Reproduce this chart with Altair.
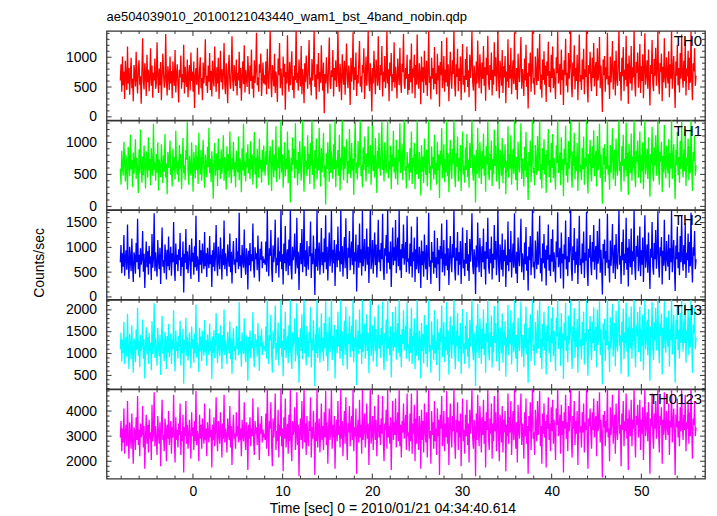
import altair as alt
import pandas as pd

FONT = "Liberation Sans"
TITLE = "ae504039010_20100121043440_wam1_bst_4band_nobin.qdp"
X_TITLE = "Time [sec] 0 = 2010/01/21 04:34:40.614"
Y_TITLE = "Counts/sec"

T_START = -8.1
T_END = 56.1
T_DOMAIN = [-9.63, 57.1]
X_MAJOR = [0, 10, 20, 30, 40, 50]
X_MINOR = [-8, -6, -4, -2, 2, 4, 6, 8, 12, 14, 16, 18, 22, 24, 26, 28, 32, 34, 36, 38,
           42, 44, 46, 48, 52, 54, 56]

LABELS = ["TH0", "TH1", "TH2", "TH3", "TH0123"]
COLORS = ["#ff0000", "#00ff00", "#0000ff", "#00ffff", "#ff00ff"]
Y_DOMAINS = [[-55, 1440], [-52, 1340], [-49, 1750], [190, 2230], [1310, 4860]]
Y_MAJOR = [[0, 500, 1000], [0, 500, 1000], [0, 500, 1000, 1500],
           [500, 1000, 1500, 2000], [2000, 3000, 4000]]
Y_MINOR_STEP = [100, 100, 100, 100, 200]

TH0 = [
    610, 880, 420, 1010, 530, 760, 300, 940, 680, 450, 1180, 560, 820, 370, 700, 990, 480, 640, 260, 870,
    720, 510, 1090, 610, 390, 830, 950, 540, 680, 220, 780, 1320, 600, 460, 900, 710, 350, 1040, 580, 790,
    430, 670, 1150, 520, 860, 320, 740, 610, 980, 470, 560, 1250, 690, 400, 810, 530, 920, 280, 650, 1060,
    740, 490, 580, 1390, 620, 360, 850, 700, 450, 1010, 560, 770, 310, 930, 640, 520, 1120, 410, 690, 880,
    550, 240, 790, 660, 1030, 470, 720, 580, 1210, 390, 840, 620, 500, 960, 330, 710, 870, 440, 1080, 600,
    760, 420, 930, 150, 680, 820, 540, 1160, 610, 370, 790, 1000, 480, 650, 280, 910, 560, 740, 1300, 520,
    690, 400, 860, 590, 1070, 450, 770, 340, 940, 620, 510, 1180, 700, 420, 830, 560, 990, 300, 680, 1110,
    580, 800, 460, 720, 1240, 540, 380, 900, 650, 230, 820, 1040, 590, 470, 760, 1350, 610, 430, 870, 700,
    520, 960, 360, 740, 610, 1090, 480, 820, 270, 680, 930, 550, 1200, 410, 790, 640, 500, 1020, 720, 380,
    860, 600, 1130, 470, 690, 320, 950, 570, 780, 1410, 530, 660, 420, 880, 740, 1060, 350, 620, 910, 560,
    700,
    540, 930, 380, 1140, 690, 470, 820, 1480, 600, 330, 870, 720, 510, 1060, 400, 760, 620, 250, 980, 700,
    1240, 480, 810, 590, 360, 1010, 670, 890, 120, 750, 560, 1370, 640, 420, 920, 530, 780, 1100, 450, 680,
    310, 860, 620, 1520, 570, 740, 440, 960, 690, 510, 1190, 380, 800, 650, 230, 900, 580, 1030, 720, 470,
    830, 1290, 540, 660, 360, 970, 610, 780, 1460, 500, 710, 290, 880, 630, 1070, 420, 750, 570, 1200, 680,
    440, 910, 60, 720, 560, 1000, 640, 390, 850, 1330, 590, 470, 780, 670, 1120, 340, 820, 610, 950, 500,
    730, 1500, 580, 420, 890, 660, 280, 1050, 710, 540, 940, 370, 800, 1230, 620, 480, 860, 700, 200, 990,
    590, 760, 1420, 450, 830, 620, 1080, 350, 700, 560, 920, 1270, 510, 680, 410, 870, 740, 1150, 300, 640,
    1010, 520, 780, 1460, 600, 430, 900, 670, 90, 820, 560, 1110, 690, 380, 960, 740, 520, 1350, 610, 450,
    870, 700, 1190, 340, 760, 590, 1020, 480, 650, 1480, 560, 800, 260, 910, 680, 1070, 430, 720, 580, 1250,
    490, 840, 660, 310, 980, 720, 530, 1160, 600, 400, 890, 750, 1390, 560, 470, 820, 640, 1040, 370,
    720, 450, 960, 580, 1230, 390, 810, 660, 1040, 310, 870, 540, 1380, 620, 470, 900, 730, 210, 1010, 590,
    830, 400, 1110, 690, 530, 940, 350, 760, 1450, 570, 680, 290, 990, 640, 820, 460, 1170, 550, 730, 380,
    1060, 610, 860, 170, 920, 700, 1270, 480, 650, 1020, 420, 790, 580, 1330, 510, 880, 260, 740, 1090, 630,
    470, 950, 720, 1500, 560, 340, 880, 670, 1140, 430, 810, 600, 1010, 280, 760, 1220, 540, 690, 410, 970,
    620, 1180, 500, 780, 330, 1040, 650, 890, 1440, 590, 440, 860, 710, 100, 930, 560, 1280, 680, 480, 1050,
    760, 390, 910, 640, 1190, 520, 830, 270, 990, 700, 1360, 580, 450, 870, 620, 1080, 360, 790, 540, 1250,
    680, 1000, 430, 730, 1470, 600, 310, 940, 770, 520, 1120, 400, 850, 660, 1020, 230, 760, 590, 1300, 490,
    870, 640, 1160, 380, 700, 950, 550, 1420, 620, 450, 820, 290, 1060, 710, 580, 930, 1340, 470, 800, 660,
    350, 980, 610, 1210, 500, 740, 140, 900, 680, 1080, 420, 790, 1490, 560, 650, 370, 1010, 720, 530, 1150,
    600, 830, 1390, 460, 710, 320, 960, 620, 1100, 540, 860, 250, 930, 690, 1260, 500, 770, 410, 1040, 650,
    1180, 480, 810, 580, 300, 1000, 730, 1430, 560, 660, 890, 370, 1130, 620, 790, 200, 950, 700, 1310, 520,
    740, 410, 1070, 640, 880, 1510, 550, 330, 910, 680, 1200, 460, 820, 600, 1040, 280, 760, 1380, 590, 700,
    450, 960, 630, 1140, 380, 800, 670, 1460, 520, 240, 870, 720, 1090, 590, 430, 990, 650, 1240, 510, 780,
    920, 350, 1150, 610, 740, 1340, 480, 860, 570, 80, 960, 700, 1020, 420, 830, 630, 1410, 540, 690, 300,
    1010, 580, 820, 1270, 460, 700, 940, 360, 1110, 650, 520, 880, 1480, 600, 750, 270, 990, 680, 1170, 430,
    790, 620, 1360, 510, 890, 220, 1030, 700, 560, 1190, 440, 830, 660, 1500, 570, 340, 920, 740, 1080, 490,
    660, 1220, 400, 850, 600, 1050, 310, 780, 1400, 540, 710, 950, 470, 1130, 630, 190, 870, 720, 1290, 560,
    430, 970, 690, 1160, 520, 800, 1450, 610, 380, 900, 750, 1060, 260, 840, 580, 1320, 650, 480, 1000, 710,
    560, 1100, 330, 880, 640, 1490, 470, 760, 1020, 590, 150, 930, 690, 1210, 530, 820, 410, 1070, 640, 1380,
    700, 490, 940, 600, 1260, 360, 810, 680, 1110, 450, 990, 570, 1430, 630, 280, 900, 760, 1150, 520, 690,
]

TH1 = [
    590, 340, 870, 620, 480, 1010, 710, 390, 800, 550, 260, 930, 660, 470, 1120, 580, 720, 300, 840, 510,
    680, 1050, 430, 760, 600, 210, 890, 520, 1200, 640, 370, 780, 490, 950, 620, 280, 860, 700, 450, 1080,
    560, 740, 330, 910, 610, 480, 1290, 570, 690, 400, 820, 530, 1000, 250, 730, 610, 460, 970, 680, 360,
    800, 540, 1130, 450, 670, 190, 850, 600, 740, 1030, 490, 620, 310, 900, 560, 770, 420, 1180, 640, 500,
    720, 380, 960, 590, 820, 270, 680, 1070, 520, 640, 410, 880, 730, 1330, 550, 340, 790, 610, 480, 1000,
    600, 230, 850, 700, 440, 960, 570, 780, 350, 1150, 620, 500, 880, 400, 720, 1040, 540, 290, 810, 660,
    460, 930, 610, 1230, 520, 740, 380, 860, 590, 120, 700, 990, 480, 650, 830, 320, 1060, 570, 740, 430,
    890, 510, 680, 1110, 400, 770, 600, 260, 940, 550, 820, 450, 1170, 630, 360, 750, 580, 1010, 470, 690,
    300, 870, 620, 530, 1090, 410, 760, 650, 220, 910, 560, 1290, 480, 700, 390, 840, 610, 970, 520, 740,
    430, 1020, 580, 810, 340, 690, 1160, 500, 760, 280, 900, 620, 450, 1060, 590, 730, 370, 880, 540, 950,
    610,
    480, 860, 650, 1360, 520, 330, 770, 940, 590, 240, 1040, 690, 450, 810, 560, 1250, 380, 720, 600, 930,
    420, 700, 1380, 530, 810, 290, 650, 1000, 470, 740, 580, 1170, 360, 880, 620, 60, 760, 540, 1080, 650,
    900, 440, 1300, 590, 720, 330, 850, 510, 1020, 680, 400, 790, 1350, 560, 230, 940, 620, 710, 470, 1110,
    580, 820, 350, 990, 640, 1400, 490, 730, 270, 880, 600, 1060, 420, 760, 560, 1230, 680, 310, 910, 530,
    760, 1150, 450, 640, 30, 830, 590, 1000, 700, 380, 1290, 520, 860, 640, 430, 970, 580, 1360, 300, 720,
    610, 880, 480, 1120, 250, 760, 560, 1380, 670, 410, 930, 590, 820, 1050, 360, 710, 510, 1210, 640, 440,
    990, 560, 740, 180, 860, 1330, 520, 690, 420, 1020, 610, 780, 1360, 470, 650, 300, 920, 570, 1090, 700,
    390, 830, 620, 1250, 510, 740, 960, 340, 680, 1400, 550, 800, 450, 1070, 620, 210, 870, 590, 1150, 660,
    480, 920, 1320, 570, 730, 390, 1000, 640, 520, 850, 1370, 440, 700, 580, 950, 270, 810, 620, 1180, 530,
    760, 430, 1040, 610, 340, 890, 700, 1300, 520, 660, 980, 410, 770, 1390, 560, 630, 280, 850, 600,
    670, 400, 910, 530, 1170, 350, 760, 610, 990, 270, 820, 500, 1360, 570, 430, 850, 680, 170, 960, 540,
    780, 360, 1060, 640, 490, 890, 310, 710, 1390, 520, 630, 250, 940, 590, 770, 420, 1120, 500, 680, 340,
    1010, 560, 810, 130, 870, 650, 1220, 440, 600, 970, 380, 740, 530, 1350, 470, 830, 220, 690, 1040, 580,
    430, 900, 670, 1400, 510, 300, 830, 620, 1090, 390, 760, 550, 960, 240, 710, 1170, 500, 640, 370, 920,
    570, 1130, 460, 730, 290, 990, 600, 840, 1380, 540, 400, 810, 660, 60, 880, 510, 1230, 630, 440, 1000,
    710, 350, 860, 590, 1140, 480, 780, 230, 940, 650, 1340, 530, 410, 820, 570, 1030, 320, 740, 500, 1200,
    630, 950, 390, 680, 1410, 550, 270, 890, 720, 480, 1070, 360, 800, 610, 970, 190, 710, 540, 1250, 450,
    820, 590, 1110, 340, 650, 900, 510, 1370, 570, 410, 770, 250, 1010, 660, 530, 880, 1300, 430, 750, 610,
    310, 930, 560, 1160, 460, 690, 100, 850, 630, 1030, 380, 740, 1420, 520, 600, 330, 960, 670, 490, 1100,
    550, 780, 1350, 420, 660, 280, 910, 570, 1050, 500, 810, 210, 880, 640, 1210, 460, 720, 370, 990, 600,
    1130, 440, 760, 530, 260, 950, 680, 1380, 520, 610, 840, 330, 1080, 570, 740, 160, 900, 650, 1260, 480,
    690, 370, 1020, 590, 830, 1420, 510, 290, 860, 630, 1150, 420, 770, 550, 990, 240, 710, 1330, 540, 650,
    410, 910, 580, 1090, 340, 750, 620, 1400, 480, 200, 820, 670, 1040, 540, 390, 940, 600, 1190, 470, 730,
    870, 310, 1100, 560, 690, 1290, 440, 810, 520, 40, 910, 650, 970, 380, 780, 580, 1360, 500, 640, 260,
    960, 530, 770, 1220, 420, 650, 890, 320, 1060, 600, 480, 830, 1410, 550, 700, 230, 940, 630, 1120, 390,
    740, 570, 1310, 470, 840, 180, 980, 650, 520, 1140, 400, 780, 610, 1390, 520, 300, 870, 690, 1030, 450,
    610, 1170, 360, 800, 550, 1000, 270, 730, 1350, 500, 660, 900, 430, 1080, 580, 150, 820, 670, 1240, 510,
    390, 920, 640, 1110, 480, 750, 1400, 560, 340, 850, 700, 1010, 220, 790, 530, 1270, 600, 440, 950, 660,
    520, 1050, 290, 830, 590, 1380, 430, 710, 970, 540, 110, 880, 640, 1160, 490, 770, 370, 1020, 590, 1330,
    650, 450, 890, 550, 1210, 320, 760, 630, 1060, 410, 940, 520, 1370, 580, 240, 850, 710, 1100, 480, 640,
]

TH2 = [
    700, 1050, 480, 880, 610, 1250, 430, 790, 940, 550, 1460, 680, 360, 1010, 760, 520, 1180, 640, 300, 900,
    820, 470, 1090, 700, 1580, 560, 850, 390, 980, 650, 760, 1330, 510, 870, 180, 740, 1120, 600, 920, 450,
    1030, 670, 820, 340, 1270, 590, 780, 1690, 520, 900, 640, 410, 1150, 730, 560, 990, 260, 820, 1400, 610,
    740, 480, 1060, 860, 350, 950, 620, 1220, 540, 780, 1010, 430, 880, 700, 1510, 590, 320, 1080, 660, 850,
    520, 960, 740, 1290, 420, 800, 610, 1120, 90, 870, 690, 1370, 560, 920, 480, 780, 1050, 640, 360, 1180,
    710, 890, 450, 1020, 600, 1640, 530, 820, 700, 300, 1150, 650, 940, 480, 1080, 760, 560, 1310, 620, 880,
    400, 990, 720, 580, 1230, 660, 850, 200, 940, 610, 1100, 520, 790, 1450, 680, 430, 1010, 740, 560, 1200,
    820, 350, 970, 640, 1540, 560, 880, 720, 420, 1060, 790, 610, 1280, 500, 910, 270, 830, 1130, 650, 760,
    480, 1190, 700, 920, 560, 1700, 620, 840, 380, 1050, 730, 590, 1360, 670, 450, 980, 810, 150, 930, 640,
    1090, 520, 860, 720, 1480, 600, 390, 1000, 760, 880, 540, 1240, 680, 310, 970, 750, 1120, 580, 820, 690,
    730,
    650, 1120, 510, 1790, 760, 420, 980, 830, 1350, 570, 300, 1040, 700, 880, 1560, 480, 790, 640, 1200, 390,
    920, 710, 1820, 560, 860, 250, 1080, 680, 1430, 520, 790, 960, 440, 1160, 630, 1760, 590, 350, 1010, 740,
    860, 1280, 470, 690, 1600, 580, 910, 140, 820, 1090, 660, 1370, 500, 780, 1800, 610, 940, 420, 1130, 700,
    550, 1020, 820, 1520, 380, 880, 660, 1240, 720, 40, 970, 610, 1780, 530, 840, 1100, 450, 760, 1390, 640,
    900, 480, 1180, 700, 1650, 560, 1010, 330, 860, 1300, 620, 780, 1740, 490, 950, 680, 1150, 220, 830, 1060,
    600, 1420, 740, 920, 510, 1800, 660, 1030, 410, 870, 1210, 580, 1590, 700, 360, 990, 790, 1330, 540, 880,
    1120, 640, 1770, 460, 900, 720, 1260, 110, 830, 1050, 590, 1480, 690, 960, 430, 1740, 620, 860, 1170, 520,
    780, 1380, 650, 1010, 280, 920, 1820, 560, 740, 1150, 470, 880, 1300, 640, 1060, 390, 810, 1560, 700, 950,
    520, 1090, 760, 1680, 600, 340, 980, 830, 1250, 470, 1790, 690, 910, 560, 1120, 200, 850, 1400, 640, 1000,
    730, 1550, 480, 890, 1200, 620, 1760, 540, 960, 380, 1070, 780, 1460, 650, 830, 1110, 500, 1640, 710,
    780, 470, 1080, 620, 1420, 390, 900, 720, 1200, 300, 960, 560, 1620, 680, 480, 1010, 800, 180, 1140, 640,
    920, 410, 1260, 760, 560, 1050, 340, 830, 1700, 610, 740, 260, 1110, 690, 910, 470, 1340, 590, 800, 380,
    1190, 660, 950, 120, 1030, 770, 1480, 500, 710, 1150, 430, 870, 630, 1560, 540, 980, 240, 810, 1230, 690,
    500, 1070, 790, 1780, 600, 330, 990, 730, 1310, 440, 900, 650, 1130, 260, 830, 1400, 580, 750, 420, 1090,
    670, 1350, 530, 860, 320, 1170, 710, 1000, 1690, 640, 460, 960, 780, 60, 1040, 600, 1500, 740, 500, 1190,
    840, 400, 1020, 700, 1380, 560, 920, 250, 1110, 770, 1600, 630, 470, 970, 680, 1220, 350, 870, 580, 1450,
    750, 1130, 440, 800, 1760, 650, 300, 1060, 850, 550, 1280, 410, 950, 720, 1160, 200, 840, 640, 1520, 520,
    960, 700, 1330, 390, 770, 1080, 590, 1690, 680, 470, 910, 280, 1200, 780, 620, 1040, 1580, 500, 880, 720,
    340, 1100, 660, 1410, 530, 820, 130, 1010, 740, 1230, 440, 870, 1800, 600, 710, 370, 1140, 790, 560, 1320,
    650, 920, 1640, 480, 780, 310, 1080, 680, 1270, 580, 950, 230, 1040, 750, 1460, 530, 850, 420, 1170, 710,
    1360, 510, 900, 630, 290, 1120, 800, 1710, 600, 720, 990, 370, 1300, 680, 870, 170, 1060, 760, 1540, 560,
    820, 420, 1210, 700, 980, 1790, 590, 320, 1020, 740, 1390, 480, 910, 650, 1180, 260, 840, 1640, 640, 770,
    460, 1080, 690, 1320, 380, 890, 730, 1720, 560, 220, 970, 790, 1250, 640, 440, 1110, 710, 1450, 550, 860,
    1030, 350, 1330, 670, 820, 1580, 490, 950, 610, 50, 1070, 770, 1160, 430, 920, 690, 1680, 580, 750, 290,
    1140, 630, 910, 1470, 480, 770, 1050, 360, 1270, 710, 560, 980, 1760, 650, 830, 260, 1110, 740, 1360, 440,
    870, 680, 1600, 550, 990, 210, 1170, 770, 600, 1380, 450, 920, 720, 1790, 620, 340, 1030, 810, 1240, 520,
    720, 1420, 420, 940, 650, 1200, 300, 860, 1650, 590, 780, 1060, 490, 1300, 690, 160, 970, 790, 1510, 610,
    450, 1090, 760, 1350, 570, 880, 1730, 660, 390, 1000, 820, 1210, 250, 930, 630, 1560, 710, 520, 1130, 780,
    610, 1260, 340, 980, 700, 1770, 500, 840, 1150, 640, 120, 1040, 760, 1420, 580, 900, 440, 1230, 700, 1650,
    770, 530, 1050, 660, 1490, 380, 890, 740, 1280, 490, 1110, 620, 1700, 690, 290, 1000, 830, 1330, 560, 760,
]

TH3 = [
    1100, 1480, 820, 1320, 1010, 1720, 760, 1250, 1390, 930, 1910, 1080, 650, 1460, 1180, 870, 1640, 1020, 560, 1350,
    1230, 800, 1550, 1090, 2050, 950, 1290, 690, 1420, 1060, 1180, 1780, 880, 1330, 430, 1150, 1600, 980, 1380, 770,
    1470, 1050, 1250, 620, 1740, 990, 1190, 2150, 900, 1360, 1040, 720, 1590, 1130, 940, 1430, 510, 1250, 1860, 1000,
    1160, 830, 1500, 1290, 640, 1400, 1020, 1680, 920, 1200, 1460, 760, 1320, 1100, 1990, 980, 590, 1530, 1060, 1270,
    880, 1410, 1150, 1750, 730, 1230, 1010, 1570, 310, 1310, 1090, 1820, 950, 1380, 840, 1190, 1490, 1040, 660, 1620,
    1120, 1330, 790, 1460, 1000, 2120, 910, 1260, 1110, 580, 1590, 1050, 1390, 830, 1520, 1170, 950, 1770, 1030, 1310,
    720, 1440, 1130, 970, 1690, 1060, 1280, 420, 1390, 1010, 1540, 900, 1210, 1930, 1080, 780, 1460, 1150, 950, 1650,
    1240, 650, 1420, 1040, 2010, 960, 1310, 1130, 760, 1500, 1200, 1010, 1740, 870, 1350, 540, 1260, 1580, 1060, 1170,
    840, 1630, 1110, 1370, 960, 2180, 1020, 1280, 700, 1490, 1140, 990, 1810, 1080, 800, 1420, 1230, 380, 1380, 1050,
    1530, 890, 1300, 1120, 1950, 1000, 690, 1450, 1170, 1320, 930, 1700, 1080, 600, 1410, 1160, 1570, 970, 1250, 1100,
    1140,
    1050, 1620, 880, 2280, 1190, 760, 1430, 1300, 1890, 960, 560, 1520, 1110, 1340, 2100, 850, 1240, 1030, 1710, 720,
    1390, 1120, 2300, 930, 1300, 480, 1570, 1080, 1960, 900, 1230, 1410, 780, 1650, 1020, 2250, 970, 650, 1480, 1160,
    1310, 1800, 820, 1100, 2150, 950, 1380, 330, 1250, 1580, 1060, 1900, 870, 1210, 2290, 1000, 1420, 730, 1630, 1110,
    920, 1500, 1240, 2060, 680, 1330, 1070, 1760, 1140, 250, 1450, 1010, 2270, 900, 1280, 1600, 790, 1190, 1920, 1040,
    1360, 830, 1700, 1120, 2200, 940, 1490, 600, 1300, 1840, 1030, 1210, 2260, 850, 1410, 1090, 1660, 430, 1270, 1550,
    1000, 1960, 1160, 1390, 880, 2300, 1060, 1510, 720, 1320, 1750, 960, 2080, 1120, 640, 1460, 1220, 1860, 910, 1340,
    1640, 1050, 2270, 800, 1370, 1140, 1780, 280, 1290, 1530, 990, 2010, 1100, 1440, 760, 2240, 1030, 1310, 1690, 880,
    1210, 1900, 1060, 1480, 550, 1380, 2290, 940, 1170, 1650, 820, 1330, 1840, 1050, 1560, 700, 1260, 2120, 1110, 1420,
    900, 1590, 1190, 2190, 1000, 620, 1470, 1280, 1780, 830, 2260, 1120, 1370, 960, 1620, 450, 1300, 1950, 1060, 1490,
    1150, 2080, 860, 1360, 1700, 1020, 2250, 930, 1430, 690, 1560, 1220, 1990, 1070, 1290, 1640, 880, 2170, 1130,
    1210, 820, 1580, 1020, 2050, 760, 1400, 1170, 1800, 640, 1470, 950, 2240, 1100, 840, 1530, 1280, 430, 1700, 1060,
    1450, 780, 1880, 1230, 990, 1660, 690, 1310, 2270, 1040, 1200, 560, 1740, 1090, 1420, 850, 1990, 1000, 1290, 740,
    1790, 1080, 1480, 370, 1580, 1260, 2100, 920, 1120, 1720, 810, 1380, 1070, 2180, 980, 1530, 520, 1340, 1850, 1130,
    880, 1640, 1210, 2260, 1050, 640, 1510, 1170, 1930, 820, 1410, 1110, 1700, 530, 1320, 2020, 1000, 1230, 760, 1650,
    1100, 1960, 930, 1350, 660, 1770, 1160, 1520, 2250, 1090, 850, 1480, 1280, 260, 1640, 1030, 2140, 1250, 900, 1800,
    1360, 770, 1570, 1110, 2010, 970, 1460, 560, 1700, 1260, 2230, 1080, 840, 1490, 1150, 1870, 680, 1400, 1030, 2090,
    1240, 1700, 820, 1300, 2270, 1110, 600, 1600, 1380, 1000, 1920, 790, 1490, 1190, 1740, 470, 1370, 1140, 2120, 960,
    1550, 1210, 1990, 750, 1280, 1710, 1040, 2240, 1160, 880, 1430, 580, 1820, 1260, 1060, 1560, 2190, 930, 1420, 1240,
    690, 1690, 1130, 2080, 980, 1340, 330, 1590, 1230, 1900, 830, 1440, 2290, 1060, 1210, 730, 1720, 1320, 1010, 1990,
    1110, 1510, 2200, 900, 1330, 640, 1680, 1160, 1960, 1070, 1490, 520, 1650, 1280, 2090, 1010, 1420, 810, 1810, 1230,
    2060, 940, 1520, 1140, 600, 1820, 1390, 2260, 1100, 1250, 1610, 720, 1930, 1130, 1460, 420, 1710, 1300, 2160, 1060,
    1400, 800, 1870, 1230, 1560, 2290, 1080, 650, 1620, 1280, 2040, 900, 1510, 1150, 1790, 560, 1450, 2220, 1170, 1330,
    870, 1720, 1180, 1960, 750, 1470, 1270, 2250, 1040, 490, 1560, 1350, 1860, 1150, 850, 1730, 1240, 2060, 1060, 1480,
    1620, 690, 2010, 1200, 1430, 2200, 960, 1550, 1130, 300, 1690, 1320, 1790, 830, 1530, 1190, 2280, 1090, 1280, 580,
    1830, 1120, 1500, 2140, 930, 1340, 1700, 710, 1980, 1240, 1050, 1600, 2290, 1180, 1420, 540, 1730, 1260, 2030, 870,
    1490, 1230, 2170, 1040, 1590, 470, 1840, 1330, 1120, 2080, 880, 1580, 1280, 2280, 1170, 680, 1650, 1390, 1950, 1030,
    1290, 2070, 820, 1560, 1180, 1890, 620, 1460, 2230, 1100, 1370, 1760, 960, 2020, 1220, 380, 1620, 1350, 2180, 1140,
    850, 1710, 1300, 2050, 1070, 1500, 2280, 1200, 780, 1680, 1410, 1920, 520, 1590, 1120, 2200, 1290, 1020, 1830, 1370,
    1150, 1980, 700, 1560, 1310, 2270, 980, 1470, 1880, 1200, 330, 1770, 1330, 2090, 1080, 1540, 890, 1930, 1250, 2230,
    1380, 1040, 1760, 1240, 2150, 790, 1530, 1300, 2000, 960, 1820, 1140, 2260, 1280, 560, 1660, 1460, 2040, 1100, 1370,
]

TH0123 = [
    2950, 3600, 2400, 3300, 2750, 4100, 2300, 3150, 3450, 2600, 4400, 2900, 2100, 3550, 3050, 2500, 3900, 2800, 1900, 3350,
    3200, 2450, 3750, 2850, 4600, 2650, 3250, 2200, 3500, 2950, 3100, 4200, 2550, 3400, 1700, 3000, 3850, 2700, 3450, 2350,
    3650, 2900, 3150, 2050, 4250, 2800, 3100, 4750, 2600, 3400, 2850, 2250, 3800, 3050, 2700, 3550, 1800, 3200, 4450, 2850,
    3050, 2400, 3700, 3300, 2000, 3450, 2900, 4000, 2650, 3150, 3600, 2300, 3350, 2950, 4650, 2750, 1950, 3750, 2850, 3250,
    2550, 3500, 3050, 4300, 2250, 3200, 2800, 3850, 1550, 3350, 3000, 4400, 2700, 3450, 2500, 3100, 3650, 2850, 2100, 3950,
    3000, 3350, 2450, 3600, 2800, 4800, 2650, 3200, 3000, 2000, 3850, 2900, 3450, 2500, 3700, 3100, 2700, 4300, 2850, 3300,
    2200, 3550, 3050, 2750, 4100, 2950, 3250, 1750, 3450, 2850, 3750, 2600, 3150, 4550, 2950, 2400, 3600, 3050, 2700, 3950,
    3200, 2150, 3500, 2900, 4650, 2750, 3300, 3050, 2350, 3700, 3150, 2850, 4200, 2550, 3400, 1850, 3200, 3850, 2900, 3100,
    2500, 3950, 3000, 3400, 2750, 4850, 2850, 3300, 2200, 3650, 3050, 2800, 4350, 2950, 2450, 3550, 3200, 1650, 3450, 2900,
    3750, 2600, 3300, 3000, 4500, 2800, 2250, 3600, 3100, 3350, 2650, 4150, 2950, 2050, 3500, 3100, 3800, 2750, 3250, 3000,
    3050,
    2850, 3900, 2500, 4950, 3100, 2200, 3600, 3300, 4350, 2650, 1800, 3700, 2950, 3400, 4700, 2450, 3200, 2800, 4050, 2150,
    3450, 3000, 4900, 2600, 3300, 1600, 3750, 2900, 4500, 2550, 3150, 3500, 2300, 3850, 2800, 4850, 2700, 2000, 3600, 3050,
    3250, 4150, 2450, 2950, 4750, 2650, 3450, 1400, 3200, 3700, 2850, 4400, 2500, 3150, 4950, 2750, 3500, 2250, 3800, 2950,
    2600, 3600, 3200, 4550, 2150, 3350, 2900, 4000, 3000, 1450, 3550, 2800, 4900, 2550, 3300, 3700, 2350, 3100, 4300, 2850,
    3400, 2450, 3950, 2950, 4800, 2650, 3550, 1900, 3250, 4100, 2850, 3150, 4900, 2500, 3450, 2950, 3800, 1700, 3200, 3650,
    2800, 4400, 3050, 3400, 2550, 4950, 2900, 3600, 2200, 3300, 4000, 2700, 4550, 3000, 2050, 3500, 3150, 4200, 2600, 3350,
    3800, 2850, 4900, 2400, 3350, 3000, 4100, 1500, 3250, 3650, 2750, 4450, 2950, 3450, 2300, 4850, 2850, 3250, 3900, 2550,
    3150, 4300, 2900, 3500, 1850, 3400, 4950, 2700, 3050, 3800, 2450, 3300, 4200, 2850, 3650, 2200, 3200, 4650, 2950, 3450,
    2650, 3700, 3100, 4600, 2800, 2000, 3500, 3250, 4050, 2500, 4900, 2950, 3400, 2700, 3750, 1650, 3300, 4400, 2850, 3550,
    3050, 4500, 2550, 3350, 3950, 2800, 4900, 2600, 3450, 2150, 3600, 3150, 4300, 2900, 3250, 3850, 2450, 4700, 3000,
    3150, 2400, 3900, 2800, 4700, 2300, 3500, 3100, 4250, 2000, 3700, 2700, 4900, 3000, 2450, 3800, 3350, 1700, 4050, 2850,
    3600, 2350, 4300, 3250, 2750, 3950, 2150, 3400, 4950, 2900, 3200, 1900, 4000, 3050, 3550, 2500, 4400, 2800, 3300, 2250,
    4100, 3000, 3650, 1450, 3850, 3300, 4600, 2600, 3050, 4000, 2400, 3500, 2950, 4800, 2700, 3750, 1850, 3400, 4300, 3050,
    2550, 3800, 3200, 4950, 2850, 2100, 3650, 3150, 4350, 2450, 3600, 2950, 3900, 1800, 3350, 4500, 2800, 3250, 2300, 3850,
    3000, 4450, 2650, 3500, 1950, 4050, 3100, 3700, 4900, 2950, 2500, 3650, 3300, 1400, 3900, 2850, 4650, 3200, 2600, 4200,
    3450, 2350, 3750, 3050, 4450, 2700, 3600, 1750, 3950, 3250, 4850, 2900, 2450, 3700, 3100, 4300, 2100, 3500, 2800, 4600,
    3200, 3950, 2400, 3300, 4950, 2950, 2000, 3850, 3450, 2750, 4200, 2350, 3650, 3150, 4000, 1600, 3450, 3000, 4700, 2700,
    3750, 3150, 4400, 2250, 3300, 4000, 2850, 4850, 3100, 2500, 3550, 1950, 4250, 3250, 2900, 3800, 4700, 2650, 3500, 3200,
    2100, 3950, 3000, 4500, 2700, 3400, 1500, 3800, 3200, 4350, 2450, 3550, 4950, 2900, 3150, 2250, 4050, 3350, 2800, 4400,
    3050, 3650, 4800, 2600, 3400, 1900, 3900, 3100, 4300, 2950, 3600, 1750, 3850, 3300, 4550, 2850, 3500, 2400, 4150, 3200,
    4450, 2700, 3650, 3100, 2050, 4100, 3450, 4900, 3000, 3200, 3850, 2300, 4250, 3050, 3600, 1550, 3950, 3300, 4650, 2900,
    3550, 2400, 4200, 3200, 3750, 4950, 2950, 2150, 3800, 3300, 4400, 2650, 3600, 3100, 4000, 1850, 3500, 4800, 3150, 3400,
    2550, 3950, 3150, 4300, 2350, 3550, 3250, 4900, 2900, 1700, 3700, 3400, 4100, 3100, 2500, 3950, 3250, 4500, 2950, 3600,
    3800, 2200, 4400, 3200, 3500, 4750, 2750, 3650, 3050, 1350, 3850, 3350, 4000, 2600, 3600, 3150, 4950, 2950, 3300, 2000,
    4150, 3050, 3550, 4650, 2700, 3400, 3850, 2300, 4300, 3250, 2850, 3700, 4950, 3100, 3450, 1800, 3900, 3250, 4400, 2600,
    3600, 3200, 4700, 2900, 3700, 1650, 4050, 3350, 3000, 4450, 2600, 3650, 3300, 4900, 3100, 2150, 3800, 3450, 4250, 2950,
    3300, 4450, 2450, 3650, 3100, 4150, 2050, 3500, 4850, 3000, 3400, 3950, 2800, 4350, 3200, 1500, 3700, 3400, 4700, 3050,
    2500, 3900, 3300, 4400, 2900, 3550, 4950, 3150, 2350, 3800, 3450, 4150, 1900, 3650, 3050, 4750, 3300, 2850, 4000, 3400,
    3050, 4300, 2250, 3600, 3350, 4900, 2750, 3500, 4100, 3150, 1450, 3850, 3350, 4500, 2950, 3600, 2600, 4150, 3200, 4850,
    3400, 2850, 3850, 3250, 4650, 2400, 3550, 3300, 4350, 2700, 3950, 3000, 4900, 3250, 2100, 3700, 3450, 4400, 3000, 3350,
]

SERIES = [TH0, TH1, TH2, TH3, TH0123]

W = 601
H = 89.5
FRAME = "#333333"


def make_panel(i):
    vals = SERIES[i]
    n = len(vals)
    step = (T_END - T_START) / (n - 1)
    times = [round(T_START + k * step, 4) for k in range(n)]
    df = pd.DataFrame({"t": times, "c": vals})
    bottom = i == len(SERIES) - 1

    ydom = Y_DOMAINS[i]
    ymin_ticks = []
    v = (ydom[0] // Y_MINOR_STEP[i] + 1) * Y_MINOR_STEP[i]
    while v < ydom[1]:
        if v not in Y_MAJOR[i]:
            ymin_ticks.append(v)
        v += Y_MINOR_STEP[i]

    xscale = alt.Scale(domain=T_DOMAIN, nice=False, zero=False)
    yscale = alt.Scale(domain=ydom, nice=False, zero=False)

    if bottom:
        xaxis = alt.Axis(values=X_MAJOR, format="d", ticks=False, tickSize=0, domain=False, grid=False,
                         labelPadding=6, title=X_TITLE, titlePadding=3, titleX=287,
                         titleAlign="center", labelFlush=False)
    else:
        xaxis = None
    yaxis = alt.Axis(values=Y_MAJOR[i], format="d", ticks=False, tickSize=0, domain=False, grid=False,
                     labelPadding=10, title=None, minExtent=45, maxExtent=45,
                     labelOverlap=False)

    X = alt.X("t:Q", scale=xscale, axis=xaxis)
    Y = alt.Y("c:Q", scale=yscale, axis=yaxis)

    line = alt.Chart(df).mark_line(color=COLORS[i], strokeWidth=1.3, clip=True).encode(x=X, y=Y)

    xmaj = pd.DataFrame({"t": X_MAJOR})
    xmin = pd.DataFrame({"t": X_MINOR})
    ymaj = pd.DataFrame({"c": Y_MAJOR[i]})
    ymn = pd.DataFrame({"c": ymin_ticks})

    rule = dict(color=FRAME, strokeWidth=1)
    layers = [line]
    for d, ln in ((xmaj, 5), (xmin, 3)):
        layers.append(alt.Chart(d).mark_rule(**rule).encode(x=X, y=alt.value(H), y2=alt.value(H - ln)))
        layers.append(alt.Chart(d).mark_rule(**rule).encode(x=X, y=alt.value(0), y2=alt.value(ln)))
    for d, ln in ((ymaj, 5), (ymn, 3)):
        layers.append(alt.Chart(d).mark_rule(**rule).encode(y=Y, x=alt.value(0), x2=alt.value(ln)))
        layers.append(alt.Chart(d).mark_rule(**rule).encode(y=Y, x=alt.value(W), x2=alt.value(W - ln)))

    lab = pd.DataFrame({"label": [LABELS[i]]})
    layers.append(
        alt.Chart(lab).mark_text(align="right", baseline="alphabetic", fontSize=15, font=FONT,
                                 color="black").encode(text="label:N", x=alt.value(W - 3), y=alt.value(15))
    )

    props = dict(width=W, height=H)
    if i == 0:
        props["title"] = alt.TitleParams(TITLE, anchor="start", frame="group", fontSize=13, font=FONT,
                                         fontWeight="normal", color="black", offset=7)
    return alt.layer(*layers).properties(**props)


chart = alt.vconcat(*[make_panel(i) for i in range(5)], spacing=0, bounds="flush").properties(
    title=alt.TitleParams(Y_TITLE, orient="left", anchor="middle", fontSize=14, font=FONT,
                          fontWeight="normal", color="black", offset=14),
    padding={"left": 25, "top": 0, "right": 2, "bottom": 0},
).configure_view(
    stroke=FRAME, strokeWidth=1.3
).configure_axis(
    labelFont=FONT, labelFontSize=14, labelColor="black",
    titleFont=FONT, titleFontSize=14, titleFontWeight="normal", titleColor="black",
)

chart.save("out.html", embed_options={"renderer": "svg", "actions": False})
